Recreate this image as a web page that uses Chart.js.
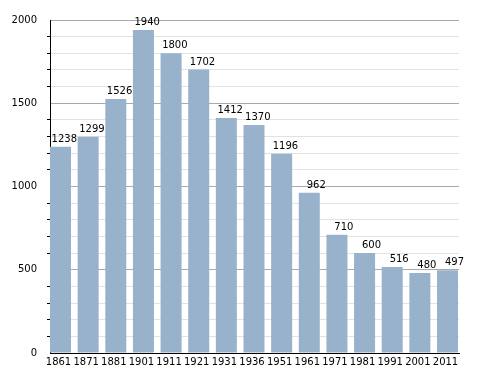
<!DOCTYPE html>
<html>
<head>
<meta charset="utf-8">
<script src="https://cdn.jsdelivr.net/npm/chart.js@4"></script>
<style>
  html, body { margin: 0; padding: 0; background: #fff; }
  #wrap { width: 488px; height: 373px; }
</style>
</head>
<body>
<div id="wrap"><canvas id="popChart"></canvas></div>
<script>
const years = ["1861", "1871", "1881", "1901", "1911", "1921", "1931", "1936", "1951", "1961", "1971", "1981", "1991", "2001", "2011"];
const population = [1238, 1299, 1526, 1940, 1800, 1702, 1412, 1370, 1196, 962, 710, 600, 516, 480, 497];
const yMax = 2000;
const yStep = 100;
const labelEvery = 500;

// bars sit on slots 0..n-1; range is widened a little on each side
const points = population.map((v, i) => ({ x: i, y: v }));

// draws the value above every bar, right-aligned just past the bar
const valueLabels = {
    id: "valueLabels",
    afterDatasetsDraw(chart) {
        const ctx = chart.ctx;
        const meta = chart.getDatasetMeta(0);
        ctx.save();
        ctx.font = "10px 'DejaVu Sans'";
        ctx.fillStyle = "#000";
        ctx.textAlign = "right";
        ctx.textBaseline = "alphabetic";
        meta.data.forEach((bar, i) => {
            ctx.fillText(population[i], bar.x + bar.width / 2 + 6, bar.y - 5);
        });
        ctx.restore();
    }
};

const ctx = document.getElementById("popChart").getContext("2d");
new Chart(ctx, {
    type: 'bar',
    data: {
        datasets: [{
            data: points,
            backgroundColor: '#99b2cb',
            borderWidth: 0,
            barPercentage: 0.76,
            categoryPercentage: 1
        }]
    },
    options: {
        responsive: true,
        maintainAspectRatio: false,
        animation: false,
        layout: { padding: { top: 20, right: 29, left: 0, bottom: 0 } },
        plugins: {
            legend: { display: false },
            tooltip: { enabled: false }
        },
        scales: {
            x: {
                type: 'linear',
                bounds: 'data',
                offset: false,
                min: -0.38,
                max: years.length - 1 + 0.416,
                grid: { display: false, drawTicks: false },
                border: { color: '#000', width: 1 },
                afterBuildTicks: scale => {
                    scale.ticks = years.map((y, i) => ({ value: i }));
                },
                ticks: {
                    color: '#000',
                    font: { family: 'DejaVu Sans', size: 10 },
                    padding: 3,
                    labelOffset: -2,
                    maxRotation: 0,
                    autoSkip: false,
                    callback: v => years[v]
                },
                afterFit: scale => { scale.height = 20; }
            },
            y: {
                min: 0,
                max: yMax,
                grid: {
                    color: c => c.tick.value % labelEvery === 0 ? '#aaaaaa' : '#e2e2e2',
                    tickColor: c => c.tick.value % labelEvery === 0 ? 'rgba(0,0,0,0)' : '#000',
                    tickLength: 3,
                    lineWidth: 1
                },
                border: { color: '#000', width: 1 },
                ticks: {
                    stepSize: yStep,
                    color: '#000',
                    font: { family: 'DejaVu Sans', size: 10 },
                    padding: 10,
                    autoSkip: false,
                    callback: v => v % labelEvery === 0 ? v : ''
                },
                afterFit: scale => { scale.width = 50; }
            }
        }
    },
    plugins: [valueLabels]
});
</script>
</body>
</html>
